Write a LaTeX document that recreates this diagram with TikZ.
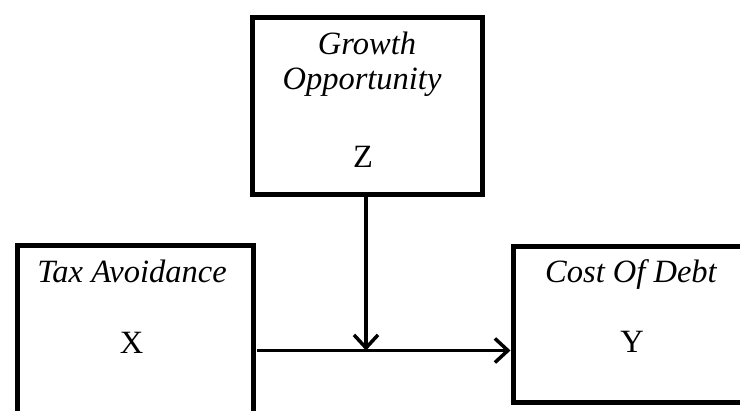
\documentclass[tikz,border=0pt]{standalone}
\usepackage{fontspec}
\setmainfont{Liberation Serif}
\usetikzlibrary{arrows.meta}
\begin{document}
\begin{tikzpicture}[x=1pt,y=-1pt,
  boxnode/.style={draw,line width=5pt,rectangle,inner sep=0pt,anchor=north west},
  lbl/.style={anchor=base,inner sep=0pt,font=\fontsize{32.5}{38}\selectfont},
  arr/.style={line width=3.5pt,-{Straight Barb[length=13pt,width=24pt,line width=3.5pt]}}]
\useasboundingbox (0,0) rectangle (740,411);
\clip (0,0) rectangle (740,411);
\node[boxnode,minimum width=230pt,minimum height=177pt] (growth) at (249.5,15.5) {};
\node[boxnode,minimum width=235.5pt,minimum height=210pt] (tax) at (15,243) {};
\node[boxnode,minimum width=260pt,minimum height=156.5pt] (debt) at (510.5,244) {};
\node[lbl] (g1) at (367,55) {\itshape Growth};
\node[lbl] (g2) at (362,90) {\itshape Opportunity};
\node[lbl] (gz) at (363,168) {Z};
\node[lbl] (t1) at (132,283) {\itshape Tax Avoidance};
\node[lbl] (tx) at (131.5,354) {X};
\node[lbl] (d1) at (631,283) {\itshape Cost Of Debt};
\node[lbl] (dy) at (632,353) {Y};
\coordinate (hs) at (257,350.5);
\coordinate (vm) at (366,350.5);
\draw[arr] (hs) -- (hs -| debt.west);
\draw[arr] (vm |- growth.south) -- (vm);
\end{tikzpicture}
\end{document}
